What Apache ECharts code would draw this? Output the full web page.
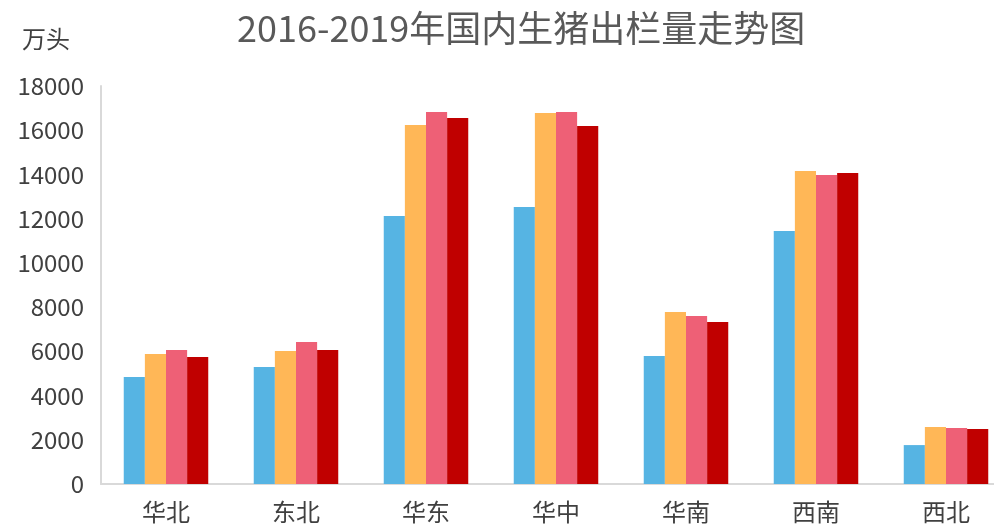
<!DOCTYPE html>
<html><head><meta charset="utf-8">
<script src="https://cdn.jsdelivr.net/npm/echarts@6/dist/echarts.min.js"></script>
<style>html,body{margin:0;padding:0;background:#fff}#c{width:994px;height:529px}</style>
</head><body><div id="c"></div>
<script>
const categories = ['华北','东北','华东','华中','华南','西南','西北'];
const s2016 = [4840, 5290, 12120, 12530, 5790, 11440, 1760];
const s2017 = [5880, 6020, 16240, 16780, 7780, 14160, 2580];
const s2018 = [6060, 6420, 16820, 16820, 7600, 13980, 2530];
const s2019 = [5740, 6060, 16550, 16190, 7330, 14070, 2490];
const yTicks = [0, 2000, 4000, 6000, 8000, 10000, 12000, 14000, 16000, 18000];
const seriesNames = ['2016','2017','2018','2019'];
const colors = ['#56B4E3','#FFB757','#EE6076','#C00000'];
const font = '"Noto Sans CJK SC", "Noto Sans", sans-serif';
const chart = echarts.init(document.getElementById('c'));
const data = [s2016, s2017, s2018, s2019];
chart.setOption({
  animation: false,
  title: { text: '2016-2019年国内生猪出栏量走势图', left: 232, top: 5,
    textStyle: { fontSize: 36, fontWeight: 'normal', color: '#595959', fontFamily: font } },
  graphic: [{ type: 'text', left: 22, top: 27, style: { text: '万头', fontSize: 24, fill: '#404040', fontFamily: font } }],
  grid: { left: 101, width: 910, top: 86, bottom: 45, containLabel: false, outerBoundsMode: 'none' },
  xAxis: { type: 'category', data: categories,
    axisLine: { lineStyle: { color: '#D9D9D9', width: 2 } }, axisTick: { show: false },
    axisLabel: { fontSize: 24, color: '#404040', margin: 16, fontFamily: font } },
  yAxis: { type: 'value', min: yTicks[0], max: yTicks[yTicks.length-1], interval: 2000,
    axisLine: { show: true, lineStyle: { color: '#D9D9D9', width: 2 } }, axisTick: { show: false },
    splitLine: { show: false },
    axisLabel: { fontSize: 24, color: '#404040', margin: 17, fontFamily: font, formatter: v => String(v) } },
  series: data.map((d, i) => ({ name: seriesNames[i], type: 'bar', data: d, barGap: '0%', barCategoryGap: '35%',
    itemStyle: { color: colors[i] } }))
});
</script></body></html>
